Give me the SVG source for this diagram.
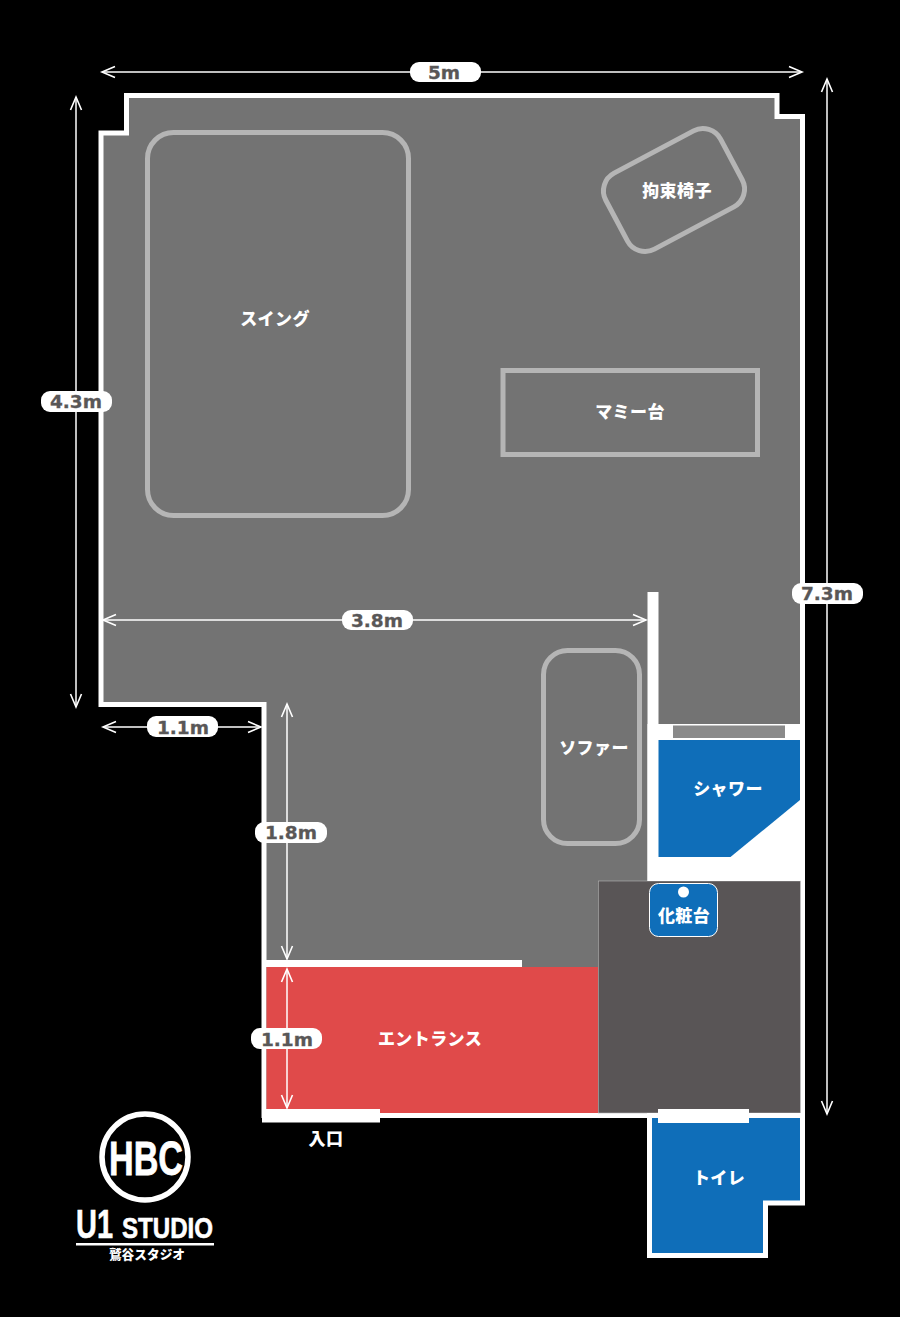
<svg xmlns="http://www.w3.org/2000/svg" width="900" height="1317" viewBox="0 0 900 1317">
<style>
.room{font:900 17px "Noto Sans CJK JP","Noto Sans",sans-serif;fill:#fff;text-anchor:middle;letter-spacing:.4px}
.dim{font:700 18.5px "DejaVu Sans","Liberation Sans",sans-serif;fill:#595757;stroke:#595757;stroke-width:.3;text-anchor:middle}
.pill{fill:#fff}
.furn{fill:none;stroke:#b5b5b5;stroke-width:5}
.arrow{stroke:#fff;stroke-width:1.5;fill:none;marker-start:url(#head);marker-end:url(#head)}
.logo{font-family:"Liberation Sans",sans-serif;font-weight:700;fill:#fff;stroke:#fff}
</style>
<defs>
<marker id="head" markerUnits="userSpaceOnUse" markerWidth="18" markerHeight="14" refX="14" refY="7" orient="auto-start-reverse">
<path d="M1,1.5 L14,7 L1,12.5" fill="none" stroke="#fff" stroke-width="1.600"/>
</marker>
</defs>
<rect width="900" height="1317" fill="#000"/>
<g id="floor">
<path d="M101,133H126.500V95.500H777V116.500H802.500V1115.500H264V704.500H101Z" fill="#737373" stroke="#fff" stroke-width="5"/>
</g>
<g id="makeup-room">
<rect x="598.300" y="881" width="202" height="232" fill="#595556" stroke="#b5b5b5" stroke-width=".6"/>
</g>
<g id="toilet">
<path d="M649.500,1115.500H802.500V1203H765.500V1255.500H649.500Z" fill="#0f6eb9" stroke="#fff" stroke-width="5"/>
<rect x="658" y="1109" width="91" height="14" fill="#fff"/>
<text class="room" x="719" y="1184">トイレ</text>
</g>
<g id="entrance">
<rect x="266.500" y="967" width="331.500" height="146" fill="#e04a4a"/>
<rect x="266" y="960" width="256" height="7" fill="#fff"/>
<rect x="262" y="1109" width="118" height="13.500" fill="#fff"/>
<text class="room" x="430" y="1045">エントランス</text>
</g>
<text class="room" x="326" y="1145" id="entrance-label">入口</text>
<g id="shower">
<rect x="647.500" y="592" width="11" height="289" fill="#fff"/>
<rect x="647.500" y="724" width="152.500" height="157" fill="#fff"/>
<rect x="673" y="725.500" width="112" height="12.500" fill="#8a8a8a"/>
<path d="M658.500,740H800V800L730.500,857H658.500Z" fill="#0f6eb9"/>
<text class="room" x="728" y="795">シャワー</text>
</g>
<g id="vanity">
<rect x="649.500" y="883.500" width="68" height="53" rx="9" fill="#0f6eb9" stroke="#fff"/>
<circle cx="683.500" cy="892" r="5.500" fill="#fff"/>
<text class="room" x="684" y="922">化粧台</text>
</g>
<g id="swing">
<rect class="furn" x="147.500" y="132.500" width="261" height="383" rx="26"/>
<text class="room" x="275" y="325">スイング</text>
</g>
<g id="chair">
<rect class="furn" x="609" y="147" width="130" height="86" rx="20" transform="rotate(-28 674 190)"/>
<text class="room" x="677" y="197">拘束椅子</text>
</g>
<g id="mummy">
<rect class="furn" x="503" y="370.500" width="254.500" height="84"/>
<text class="room" x="630" y="418">マミー台</text>
</g>
<g id="sofa">
<rect class="furn" x="543.500" y="650.500" width="96" height="193" rx="24"/>
<text class="room" x="594" y="754">ソファー</text>
</g>
<g id="connectors">
<path class="arrow" d="M102,72H802"/>
<path class="arrow" d="M76,97V707"/>
<path class="arrow" d="M827,79V1114"/>
<path class="arrow" d="M103,620H646"/>
<path class="arrow" d="M103,727H261"/>
<path class="arrow" d="M287,704V959"/>
<path class="arrow" d="M287,969V1108"/>
</g>
<g id="dim-5m"><rect class="pill" x="410" y="62" width="71" height="20" rx="9"/><text class="dim" x="444" y="78.500">5m</text></g>
<g id="dim-4-3m"><rect class="pill" x="41" y="391" width="71" height="21" rx="9"/><text class="dim" x="76" y="408">4.3m</text></g>
<g id="dim-7-3m"><rect class="pill" x="792" y="583" width="71" height="21" rx="9"/><text class="dim" x="827" y="600">7.3m</text></g>
<g id="dim-3-8m"><rect class="pill" x="342" y="610" width="71" height="20" rx="9"/><text class="dim" x="377" y="626.500">3.8m</text></g>
<g id="dim-1-1m-a"><rect class="pill" x="147" y="716" width="71" height="21" rx="9"/><text class="dim" x="183" y="733.500">1.1m</text></g>
<g id="dim-1-8m"><rect class="pill" x="255" y="822" width="72" height="21" rx="9"/><text class="dim" x="291" y="839">1.8m</text></g>
<g id="dim-1-1m-b"><rect class="pill" x="251" y="1028" width="71" height="21" rx="9"/><text class="dim" x="287" y="1045.500">1.1m</text></g>
<g id="logo">
<circle cx="145" cy="1157" r="43" fill="none" stroke="#fff" stroke-width="5.500"/>
<text class="logo" x="109" y="1175" font-size="49" stroke-width=".8" textLength="74" lengthAdjust="spacingAndGlyphs">HBC</text>
<text class="logo" x="76" y="1238" font-size="41" stroke-width=".6" textLength="37" lengthAdjust="spacingAndGlyphs">U1</text>
<text class="logo" x="122" y="1238" font-size="29" stroke-width=".6" textLength="91" lengthAdjust="spacingAndGlyphs">STUDIO</text>
<rect x="76" y="1243" width="138" height="2.500" fill="#fff"/>
<text x="147" y="1259" text-anchor="middle" font-family="'Noto Sans CJK JP',sans-serif" font-weight="900" font-size="12.700" fill="#fff">鷲谷スタジオ</text>
</g>
</svg>
